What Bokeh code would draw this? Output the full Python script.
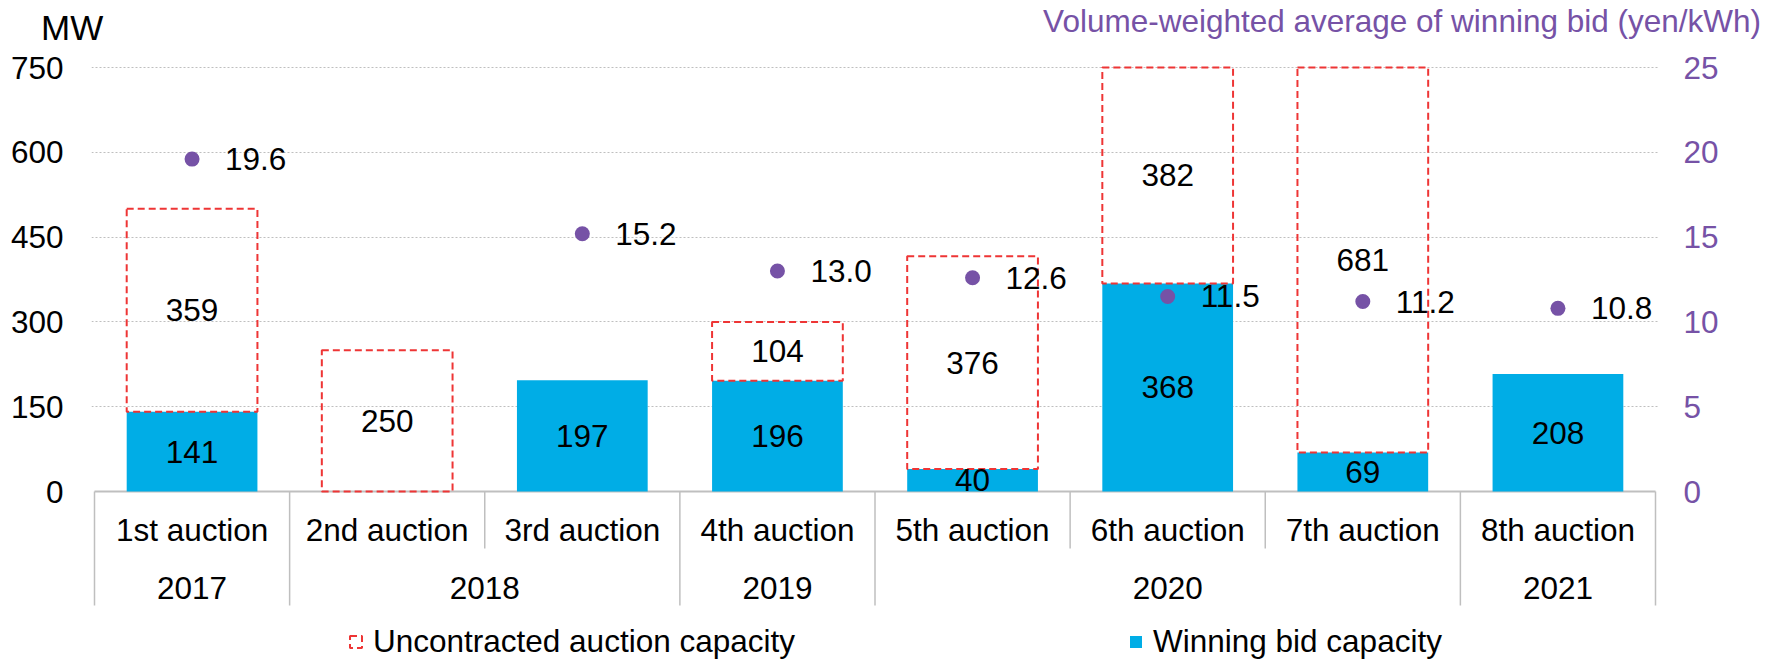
from bokeh.plotting import figure
from bokeh.layouts import column
from bokeh.models import Range1d, LinearAxis, FixedTicker, Legend, LegendItem, ColumnDataSource, Div
from bokeh.core.properties import value
from bokeh.embed import file_html
from bokeh.resources import INLINE

# ---------------- data ----------------
auctions = ["1st auction", "2nd auction", "3rd auction", "4th auction",
            "5th auction", "6th auction", "7th auction", "8th auction"]
years = ["2017", "2018", "2019", "2020", "2021"]
year_counts = [1, 2, 1, 3, 1]
winning = [141, 0, 197, 196, 40, 368, 69, 208]
uncontracted = [359, 250, 0, 104, 376, 382, 681, 0]
price = [19.6, None, 15.2, 13.0, 12.6, 11.5, 11.2, 10.8]
mw_ticks = [0, 150, 300, 450, 600, 750]
price_ticks = [0, 5, 10, 15, 20, 25]
left_title = "MW"
right_title = "Volume-weighted average of winning bid (yen/kWh)"

# ---------------- style / layout (screen px) ----------------
FONT = value("Liberation Sans")
FONT_NAME = "Liberation Sans"
FS = "31.5px"
BLUE = "#00ADE6"
RED = "#EE3535"
PURPLE = "#7652A6"
GRAY = "#BFBFBF"
BLACK = "#000000"

W = 1766
HDR_H = 46                      # header strip (axis titles)
MAIN_H = 615                    # main chart incl. category table and legend
PLOT_L, PLOT_R = 94, 1655       # category area
PLOT_TOP, AXIS_Y = 67, 491      # pixel rows of 750 and 0
TABLE_BOTTOM = 605
ROW1_BOTTOM, ROW1_MID, ROW2_MID = 548, 529, 587
PAD = 3

n = len(auctions)
cat_px = (PLOT_R - PLOT_L) / n
upp = mw_ticks[-1] / (AXIS_Y - PLOT_TOP)   # MW per px
ratio = mw_ticks[-1] / price_ticks[-1]

fig_bottom = HDR_H + MAIN_H
y_end = mw_ticks[-1] + PAD * upp
y_start = -(fig_bottom - AXIS_Y) * upp
x_start = -PAD / cat_px
x_end = n + PAD / cat_px


def ydata(px):
    return (AXIS_Y - px) * upp


# ---------------- header strip ----------------
header_html = (
    f'<div style="position:relative;width:{W}px;height:{HDR_H}px;'
    f'font-family:\'Liberation Sans\',Arial,sans-serif;">'
    f'<span style="position:absolute;left:41px;top:10px;font-size:35px;line-height:1;'
    f'color:{BLACK};white-space:nowrap;">{left_title}</span>'
    f'<span style="position:absolute;right:{W - 1761}px;top:6px;font-size:{FS};line-height:1;'
    f'color:{PURPLE};white-space:nowrap;">{right_title}</span>'
    f'</div>'
)
header = Div(text=header_html, width=W, height=HDR_H, margin=0)

# ---------------- main chart ----------------
frame_left = PLOT_L - PAD
frame_right = PLOT_R + PAD
frame_top = PLOT_TOP - PAD - HDR_H
p = figure(width=W, height=MAIN_H, x_range=Range1d(x_start, x_end), y_range=Range1d(y_start, y_end),
           output_backend="svg", toolbar_location=None, x_axis_type=None,
           min_border_left=frame_left, min_border_right=W - frame_right,
           min_border_top=frame_top, min_border_bottom=0, margin=0)
p.outline_line_color = None
p.extra_y_ranges = {"price": Range1d(y_start / ratio, y_end / ratio)}

yax = p.yaxis[0]
yax.ticker = FixedTicker(ticks=mw_ticks)
yax.axis_line_color = None
yax.major_tick_line_color = None
yax.minor_tick_line_color = None
yax.major_tick_out = 0
yax.major_tick_in = 0
yax.major_label_standoff = 28
yax.major_label_text_font_size = FS
yax.major_label_text_font = FONT_NAME
yax.major_label_text_color = BLACK

p.ygrid.ticker = FixedTicker(ticks=mw_ticks[1:])
p.ygrid.grid_line_color = GRAY
p.ygrid.grid_line_dash = "2 2"
p.ygrid.grid_line_width = 1

rax = LinearAxis(y_range_name="price", ticker=FixedTicker(ticks=price_ticks),
                 axis_line_color=None, major_tick_line_color=None, minor_tick_line_color=None,
                 major_tick_out=0, major_tick_in=0, major_label_standoff=25,
                 major_label_text_font_size=FS, major_label_text_font=FONT_NAME,
                 major_label_text_color=PURPLE)
p.add_layout(rax, "right")

# category table
bounds = [0]
for c in year_counts:
    bounds.append(bounds[-1] + c)
partial = [i for i in range(1, n) if i not in bounds]
p.segment(x0=bounds, y0=[0] * len(bounds), x1=bounds, y1=[ydata(TABLE_BOTTOM)] * len(bounds),
          line_color=GRAY, line_width=1.5)
p.segment(x0=partial, y0=[0] * len(partial), x1=partial, y1=[ydata(ROW1_BOTTOM)] * len(partial),
          line_color=GRAY, line_width=1.5)
p.segment(x0=[0], y0=[0], x1=[n], y1=[0], line_color=GRAY, line_width=2)

xs = [i + 0.5 for i in range(n)]
p.text(x=xs, y=[ydata(ROW1_MID)] * n, text=auctions, text_align="center", text_baseline="middle",
       text_font=FONT, text_font_size=FS, text_color=BLACK)
year_x = [(bounds[i] + bounds[i + 1]) / 2 for i in range(len(years))]
p.text(x=year_x, y=[ydata(ROW2_MID)] * len(years), text=years, text_align="center",
       text_baseline="middle", text_font=FONT, text_font_size=FS, text_color=BLACK)

# bars
BW = 0.67
bar_src = ColumnDataSource(dict(x=xs, top=winning))
bars = p.vbar(x="x", top="top", bottom=0, width=BW, fill_color=BLUE, line_color=None, source=bar_src)

bx = [xs[i] for i in range(n) if uncontracted[i] > 0]
bb = [winning[i] for i in range(n) if uncontracted[i] > 0]
bt = [winning[i] + uncontracted[i] for i in range(n) if uncontracted[i] > 0]
box_src = ColumnDataSource(dict(x=bx, bottom=bb, top=bt))
boxes = p.vbar(x="x", bottom="bottom", top="top", width=BW, fill_color=None, line_color=RED,
               line_width=2, line_dash="7 4", source=box_src)

# value labels
wl = [(xs[i], winning[i] / 2, str(winning[i])) for i in range(n) if winning[i] > 0]
p.text(x=[a[0] for a in wl], y=[a[1] for a in wl], text=[a[2] for a in wl], text_align="center",
       text_baseline="middle", text_font=FONT, text_font_size=FS, text_color=BLACK)
ul = [(xs[i], winning[i] + uncontracted[i] / 2, str(uncontracted[i])) for i in range(n) if uncontracted[i] > 0]
p.text(x=[a[0] for a in ul], y=[a[1] for a in ul], text=[a[2] for a in ul], text_align="center",
       text_baseline="middle", text_font=FONT, text_font_size=FS, text_color=BLACK)

# price points
px_ = [xs[i] for i in range(n) if price[i] is not None]
py_ = [price[i] for i in range(n) if price[i] is not None]
p.scatter(x=px_, y=py_, size=15, fill_color=PURPLE, line_color=None, y_range_name="price")
p.text(x=px_, y=py_, text=["%.1f" % v for v in py_], x_offset=33, text_align="left",
       text_baseline="middle", text_font=FONT, text_font_size=FS, text_color=BLACK,
       y_range_name="price")

# legend (inside the extended frame, below the category table)
legend = Legend(items=[LegendItem(label="Uncontracted auction capacity", renderers=[boxes]),
                       LegendItem(label="Winning bid capacity", renderers=[bars])],
                orientation="horizontal", location=(348 - frame_left, 1), padding=0, margin=0,
                spacing=333, label_standoff=10, glyph_width=15, glyph_height=15,
                border_line_color=None, background_fill_alpha=0,
                label_text_font_size=FS, label_text_font=FONT_NAME, label_text_color=BLACK)
p.add_layout(legend, "center")

layout = column(header, p, spacing=0)
open("out.html", "w").write(file_html(layout, INLINE))
